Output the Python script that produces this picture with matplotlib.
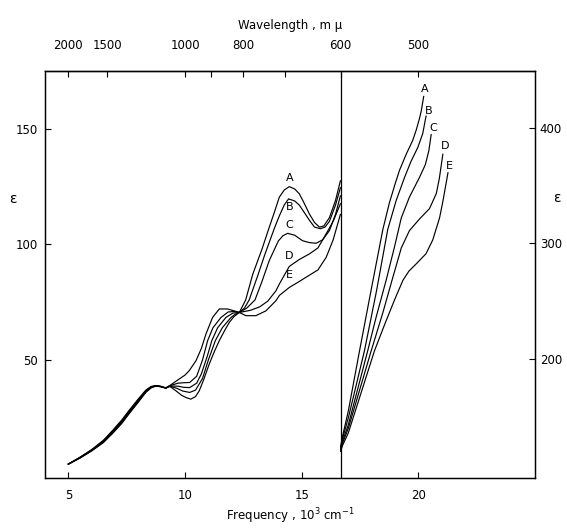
import matplotlib
matplotlib.use("Agg")
import matplotlib.pyplot as plt

# frequency in 10^3 cm^-1, epsilon values
# --- left part (near-IR), left epsilon scale
a_left_x = [5.0, 5.5, 6.0, 6.5, 6.9, 7.3, 7.6, 8.0, 8.32, 8.55, 8.75, 8.95, 9.18, 9.35,
            9.61, 9.85, 10.04, 10.25, 10.45, 10.61, 10.8, 11.04, 11.25, 11.47, 11.7, 11.9,
            12.1, 12.33, 12.6, 12.9, 13.3, 13.61, 13.85, 14.04, 14.25, 14.47, 14.7, 14.9,
            15.1, 15.33, 15.55, 15.76, 15.95, 16.19, 16.45, 16.66]
a_left_y = [5.0, 7.6, 10.7, 14.3, 18.3, 22.7, 26.7, 31.8, 36.0, 38.0, 38.7, 38.5, 37.9, 38.6,
            36.7, 34.8, 33.8, 33.1, 34.2, 36.7, 41.5, 48.3, 53.5, 58.4, 62.8, 66.3,
            68.8, 70.6, 76.0, 87.0, 98.0, 107.4, 114.5, 120.4, 123.5, 125.0, 124.0, 121.9,
            118.0, 113.2, 109.5, 107.5, 108.0, 111.6, 119.0, 127.5]

b_left_x = [5.0, 5.5, 6.0, 6.5, 6.9, 7.3, 7.6, 8.0, 8.32, 8.55, 8.75, 8.95, 9.18, 9.35,
            9.65, 9.9, 10.2, 10.45, 10.75, 11.0, 11.3, 11.6, 11.97, 12.15, 12.33, 12.55,
            12.75, 13.1, 13.4, 13.65, 13.85, 14.05, 14.25, 14.44, 14.7, 14.9, 15.1, 15.33,
            15.55, 15.8, 16.0, 16.19, 16.45, 16.66]
b_left_y = [5.0, 7.7, 10.8, 14.5, 18.6, 23.1, 27.1, 32.1, 36.2, 38.1, 38.8, 38.5, 37.9, 38.7,
            37.8, 36.6, 36.0, 37.0, 42.0, 50.0, 58.4, 64.0, 68.4, 69.8, 70.6, 72.5,
            76.0, 86.0, 95.0, 102.0, 107.5, 112.5, 117.0, 119.7, 118.8, 117.0, 114.0, 110.5,
            107.5, 106.8, 107.5, 110.0, 117.0, 124.5]

c_left_x = [5.0, 5.5, 6.0, 6.5, 6.9, 7.3, 7.6, 8.0, 8.32, 8.55, 8.75, 8.95, 9.18, 9.35,
            9.7, 9.95, 10.2, 10.5, 10.7, 10.95, 11.15, 11.4, 11.75, 12.05, 12.33, 12.65,
            13.0, 13.3, 13.61, 14.0, 14.2, 14.4, 14.7, 15.04, 15.33, 15.62, 15.9, 16.19,
            16.45, 16.66]
c_left_y = [5.0, 7.8, 11.0, 14.8, 19.0, 23.5, 27.5, 32.5, 36.5, 38.3, 38.9, 38.6, 37.9, 38.8,
            38.7, 38.2, 38.1, 40.0, 44.0, 51.5, 58.4, 64.0, 68.4, 70.3, 70.6, 72.5,
            76.0, 84.0, 93.0, 101.5, 103.8, 104.8, 104.0, 101.6, 100.8, 100.5, 102.0, 106.0,
            113.0, 121.0]

d_left_x = [5.0, 5.5, 6.0, 6.5, 6.9, 7.3, 7.6, 8.0, 8.32, 8.55, 8.75, 8.95, 9.18, 9.35,
            9.7, 9.95, 10.2, 10.5, 10.75, 10.97, 11.2, 11.54, 11.85, 12.1, 12.33, 12.8,
            13.2, 13.55, 13.9, 14.05, 14.47, 14.9, 15.33, 15.7, 16.05, 16.35, 16.66]
d_left_y = [5.0, 7.9, 11.1, 15.0, 19.3, 23.8, 27.8, 32.8, 36.7, 38.4, 38.9, 38.6, 37.9, 38.9,
            40.0, 40.2, 40.3, 43.0, 50.0, 58.4, 64.0, 68.4, 70.8, 71.0, 70.6, 71.5,
            73.0, 75.5, 80.0, 83.0, 90.5, 93.5, 95.9, 98.5, 104.6, 110.0, 117.6]

e_left_x = [5.0, 5.5, 6.0, 6.5, 6.9, 7.3, 7.6, 8.0, 8.32, 8.55, 8.75, 8.95, 9.18, 9.35,
            9.75, 10.0, 10.18, 10.47, 10.7, 10.9, 11.18, 11.47, 11.82, 12.1, 12.33, 12.61,
            13.04, 13.47, 13.9, 14.05, 14.47, 14.9, 15.33, 15.7, 16.05, 16.35, 16.66]
e_left_y = [5.0, 8.0, 11.3, 15.3, 19.6, 24.2, 28.2, 33.2, 37.0, 38.6, 39.0, 38.7, 38.0, 39.0,
            41.8, 43.5, 45.4, 49.7, 55.0, 61.3, 68.4, 72.1, 72.1, 71.3, 70.6, 69.2,
            69.2, 71.3, 75.7, 78.0, 81.4, 84.0, 86.7, 89.0, 94.4, 102.0, 113.0]

# --- right part (visible), right epsilon scale
a_right_x = [16.67, 16.75, 17.0, 17.48, 18.0, 18.48, 18.76, 19.0, 19.19, 19.48, 19.76, 19.91,
             20.05, 20.13, 20.23]
a_right_y = [124, 133, 155, 207, 262, 312, 335, 351, 363, 377, 389, 398, 408, 415, 427]

b_right_x = [16.67, 16.75, 17.0, 17.69, 18.2, 18.69, 19.05, 19.41, 19.69, 19.98, 20.19, 20.33]
b_right_y = [123, 131, 149, 207, 258, 312, 337, 357, 371, 383, 395, 410]

c_right_x = [16.67, 16.75, 17.0, 17.83, 18.19, 18.62, 18.98, 19.27, 19.62, 20.05, 20.3, 20.45, 20.55]
c_right_y = [122, 129, 143, 207, 236, 268, 297, 322, 340, 357, 368, 380, 394]

d_right_x = [16.67, 16.75, 17.0, 17.98, 18.48, 18.9, 19.27, 19.62, 20.05, 20.48, 20.77, 20.9, 21.05]
d_right_y = [121, 127, 140, 207, 240, 270, 296, 311, 321, 330, 343, 356, 377]

e_right_x = [16.67, 16.75, 17.0, 18.12, 18.6, 19.0, 19.34, 19.6, 19.9, 20.33, 20.62, 20.91,
             21.05, 21.2, 21.27]
e_right_y = [120, 125, 136, 207, 232, 252, 268, 276, 282, 291, 303, 322, 336, 353, 361]

curve_names = ["A", "B", "C", "D", "E"]
left_label_y = [128.9, 116.4, 108.6, 95.2, 86.9]
right_label_x = [20.27, 20.45, 20.65, 21.13, 21.34]
right_label_y = [433, 414, 400, 384, 367]

wavelength_ticks = [2000, 1500, 1000, 900, 800, 700, 600, 500]
wavelength_labels = ["2000", "1500", "1000", "", "800", "", "600", "500"]

plt.rcParams.update({
    "font.family": "DejaVu Sans",
    "font.size": 8.5,
    "axes.linewidth": 0.9,
})

fig = plt.figure(figsize=(5.67, 5.29), dpi=100)
ax = fig.add_axes([45 / 567, 1 - 478 / 529, 490 / 567, 407 / 529])
axr = ax.twinx()

lw = 0.85
for xs, ys in [(a_left_x, a_left_y), (b_left_x, b_left_y), (c_left_x, c_left_y),
               (d_left_x, d_left_y), (e_left_x, e_left_y)]:
    ax.plot(xs, ys, color="black", lw=lw)

for xs, ys in [(a_right_x, a_right_y), (b_right_x, b_right_y), (c_right_x, c_right_y),
               (d_right_x, d_right_y), (e_right_x, e_right_y)]:
    axr.plot(xs, ys, color="black", lw=lw)

ax.axvline(1e4 / 600, color="black", lw=0.9)

for name, y in zip(curve_names, left_label_y):
    ax.text(14.47, y, name, ha="center", va="center", fontsize=8)
for name, x, y in zip(curve_names, right_label_x, right_label_y):
    axr.text(x, y, name, ha="center", va="center", fontsize=8)

ax.set_xlim(4, 25)
ax.set_ylim(-1, 175)
axr.set_ylim(97, 449)

ax.set_xticks([5, 10, 15, 20])
ax.set_yticks([50, 100, 150])
axr.set_yticks([200, 300, 400])

ax.tick_params(axis="x", direction="in", length=4, width=0.8, pad=8)
ax.tick_params(axis="y", direction="in", length=4, width=0.8, pad=5)
axr.tick_params(axis="y", direction="in", length=4, width=0.8, pad=3.5)

top = ax.secondary_xaxis("top")
top.set_xticks([1e4 / w for w in wavelength_ticks], labels=wavelength_labels)
top.tick_params(direction="in", length=4, width=0.8, pad=14)

fig.text(290 / 567, 1 - 25 / 529, "Wavelength , m μ", ha="center", va="center", fontsize=8.5)
fig.text(290 / 567, 1 - 516 / 529, "Frequency , 10$^3$ cm$^{-1}$", ha="center", va="center",
         fontsize=8.5)
fig.text(13 / 567, 1 - 199 / 529, "ε", ha="center", va="center", fontsize=10)
fig.text(557 / 567, 1 - 198 / 529, "ε", ha="center", va="center", fontsize=10)

fig.savefig("out.png", dpi=100)
